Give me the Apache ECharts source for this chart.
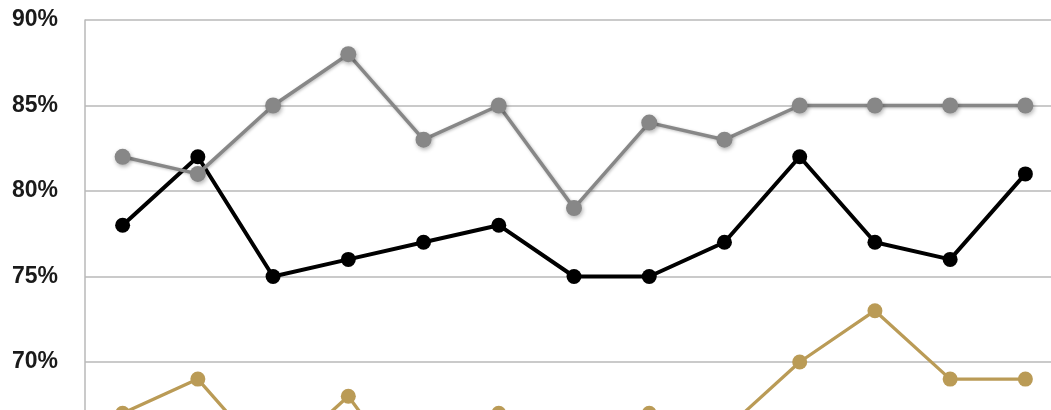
<!DOCTYPE html>
<html>
<head>
<meta charset="utf-8">
<script src="https://cdn.jsdelivr.net/npm/echarts@6/dist/echarts.min.js"></script>
<style>
html,body{margin:0;padding:0;background:#fff;overflow:hidden;}
#c{width:1063px;height:448px;}
</style>
</head>
<body>
<div id="c"></div>
<script>
const categories = ['1','2','3','4','5','6','7','8','9','10','11','12','13'];
const blackSeries = [78, 82, 75, 76, 77, 78, 75, 75, 77, 82, 77, 76, 81];
const graySeries  = [82, 81, 85, 88, 83, 85, 79, 84, 83, 85, 85, 85, 85];
const goldSeries  = [67, 69, 64, 68, 62, 67, 63, 67, 66, 70, 73, 69, 69];
const yTicks = [65, 70, 75, 80, 85, 90];

const chart = echarts.init(document.getElementById('c'), null, {renderer:'canvas', width:1063, height:448});
chart.setOption({
  animation:false,
  grid:{left:85, top:20, right:0, bottom:0.5, containLabel:false, outerBoundsMode:'none'},
  xAxis:{
    type:'category', data:categories, boundaryGap:true,
    axisLine:{show:false}, axisTick:{show:false}, axisLabel:{show:false}
  },
  yAxis:{
    type:'value', min:yTicks[0], max:yTicks[yTicks.length-1], interval:5,
    axisLine:{show:true, lineStyle:{color:'#b8b8b8', width:1.5}},
    axisTick:{show:false},
    splitLine:{lineStyle:{color:'#b8b8b8', width:1.5}},
    axisLabel:{
      formatter:v=>v+'%', margin:27, color:'#1a1a1a',
      fontFamily:'Liberation Sans, Arial, sans-serif', fontWeight:'bold', fontSize:23
    }
  },
  series:[
    {
      name:'gold', type:'line', data:goldSeries,
      symbol:'circle', symbolSize:15,
      lineStyle:{color:'#ba9b56', width:3.3},
      itemStyle:{color:'#ba9b56'}
    },
    {
      name:'black', type:'line', data:blackSeries,
      symbol:'circle', symbolSize:15,
      lineStyle:{color:'#000', width:4},
      itemStyle:{color:'#000'}
    },
    {
      name:'gray', type:'line', data:graySeries,
      symbol:'circle', symbolSize:16,
      lineStyle:{color:'#878787', width:3.5, shadowColor:'rgba(0,0,0,0.25)', shadowBlur:3, shadowOffsetX:1, shadowOffsetY:1},
      itemStyle:{color:'#878787', shadowColor:'rgba(0,0,0,0.3)', shadowBlur:4, shadowOffsetX:1, shadowOffsetY:2}
    }
  ]
});
</script>
</body>
</html>
